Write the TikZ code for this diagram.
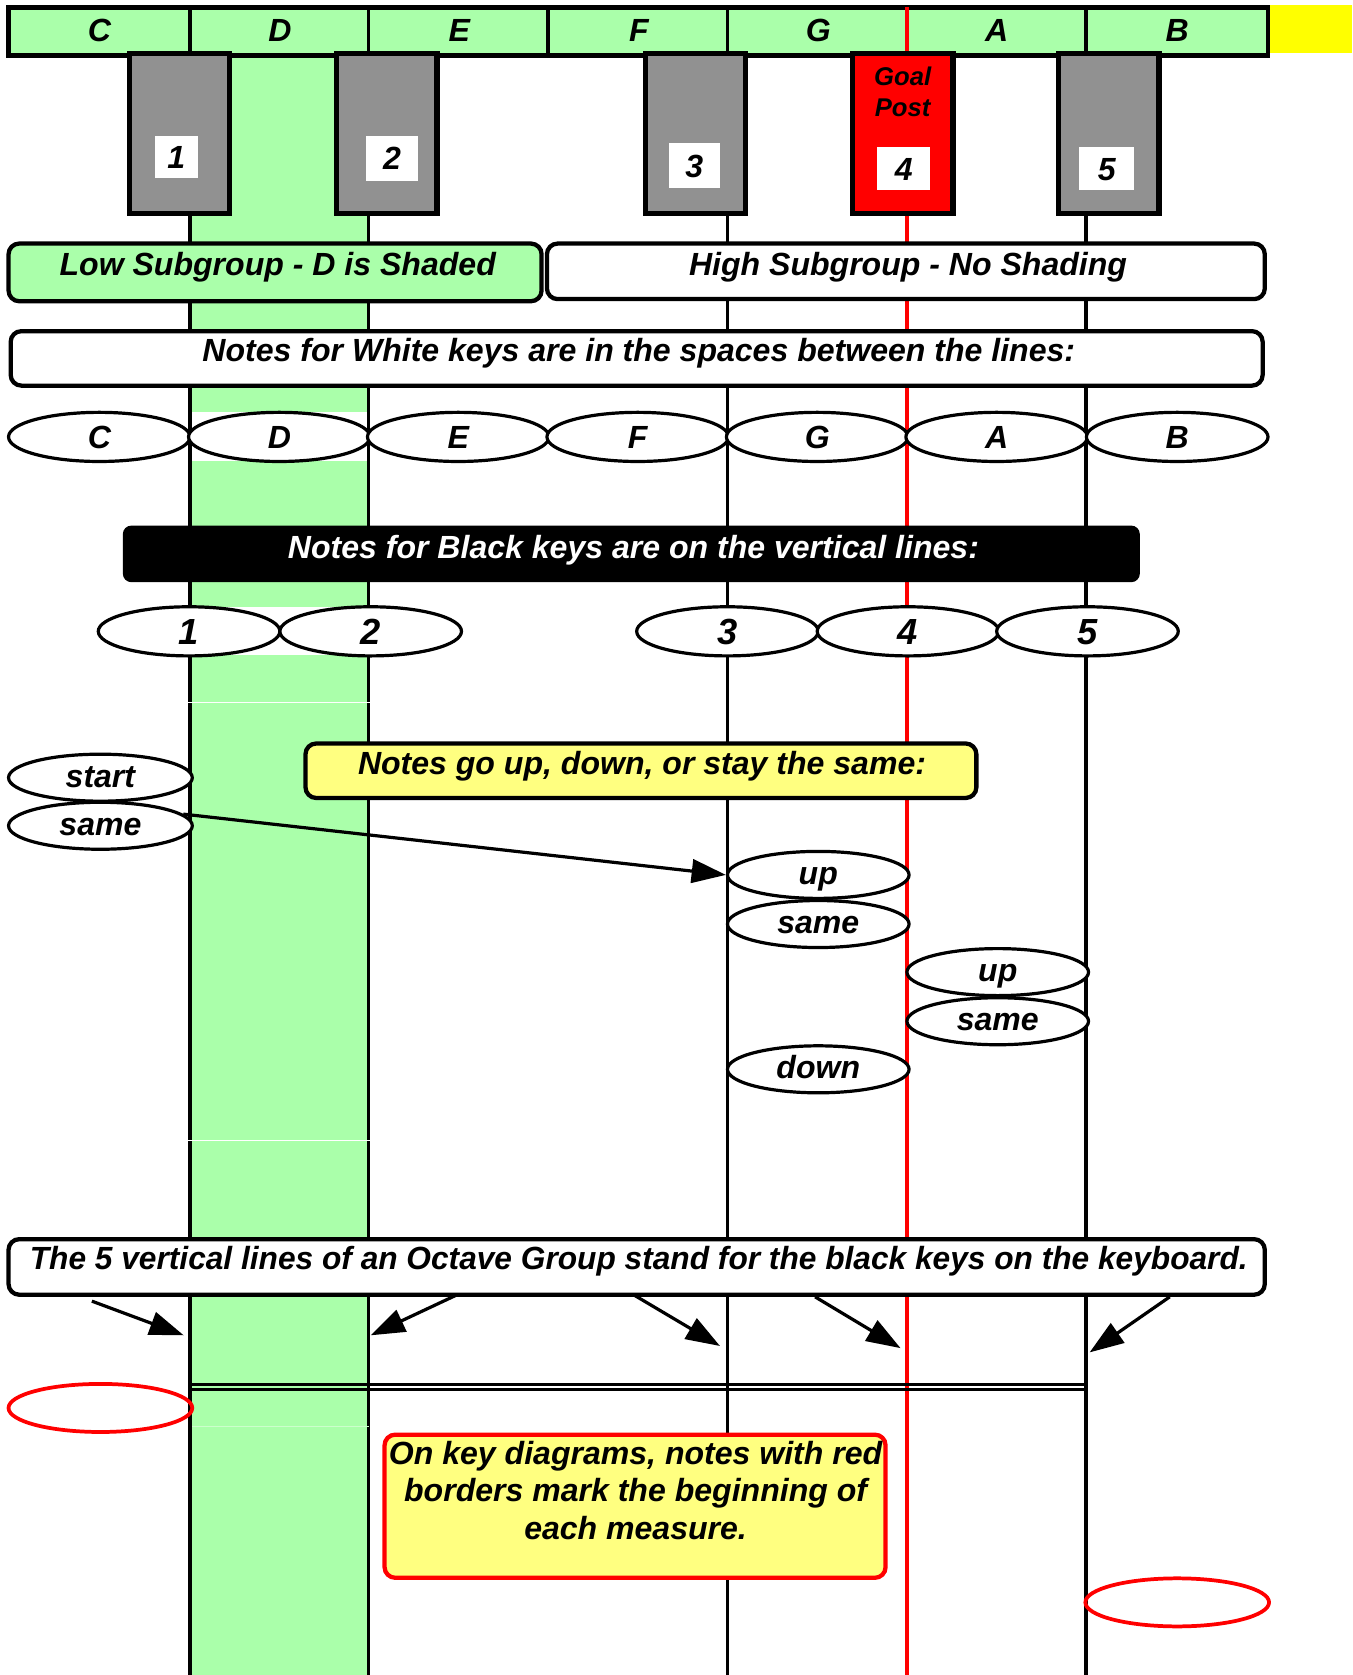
\documentclass[tikz,border=0pt]{standalone}
\usepackage{fontspec}
\setmainfont{Liberation Sans}
\usetikzlibrary{shapes.geometric,arrows.meta}
\definecolor{lgreen}{HTML}{AAFFAA}
\definecolor{kgray}{HTML}{919191}
\definecolor{lyellow}{HTML}{FFFF80}
\definecolor{pyellow}{HTML}{FFFF00}
\newcommand\fs[1]{\fontsize{#1}{35}\selectfont\bfseries\itshape}
\newcommand\fsgp{\fontsize{24}{29}\selectfont\bfseries\itshape}
\begin{document}
\begin{tikzpicture}[x=1pt,y=-1pt,
  txt/.style={inner sep=0pt, font=\fs{30}, text height=25pt, text depth=3.6pt},
  bartxt/.style={inner sep=0pt, font=\fs{30}, text height=25pt, text depth=3.6pt},
  bx/.style={draw, line width=4pt, rounded corners=10pt},
  ell/.style={ellipse, draw, line width=3pt, fill=white, minimum width=170pt, minimum height=46pt, inner sep=0pt},
  wrd/.style={font=\fs{30}, text height=22pt, text depth=4pt},
  ltr/.style={font=\fs{30}, text height=25pt, text depth=3.6pt},
  dig/.style={font=\fs{34}, text height=28pt, text depth=3.6pt},
  keybox/.style={draw, line width=5pt, fill=kgray, minimum width=94pt, minimum height=150pt, inner sep=0pt},
  lab/.style={fill=white, inner sep=0pt, font=\fs{30}, text height=25pt, text depth=3.6pt},
  vline/.style={line width=3.6pt},
  arr/.style={line width=3pt, -{Triangle[length=32pt,width=22pt]}},
  redell/.style={ellipse, draw=red, line width=3.5pt, minimum width=172pt, minimum height=45pt, inner sep=0pt},
]
\useasboundingbox (0,0) rectangle (1266,1568);
\fill[white] (0,0) rectangle (1266,1568);

% green column and its white gaps
\fill[lgreen] (178,52) rectangle (345,1568);
\fill[white] (178,386) rectangle (345,432);
\fill[white] (178,568) rectangle (345,613);

% top bar
\fill[pyellow] (1189,5) rectangle (1266,50);
\draw[line width=4pt, fill=lgreen] (8,7) rectangle (1187,52);
\foreach \x in {178,345,513,681,1017} \draw[vline] (\x,7) -- (\x,52);

% vertical lines
\foreach \x in {178,345,681,1017} \draw[vline] (\x,52) -- (\x,1568);
\draw[red, line width=3pt] (849,7) -- (849,1568);
\draw[white, line width=1pt] (176,658) -- (347,658);
\draw[white, line width=1pt] (176,1068) -- (347,1068);
\draw[white!40!lgreen, line width=1pt] (180,1335) -- (345,1335);

% top bar letters
\node[bartxt] (bC) at (93,28) {C};
\node[bartxt] (bD) at (262,28) {D};
\node[bartxt] (bE) at (430,28) {E};
\node[bartxt] (bF) at (598,28) {F};
\node[bartxt] (bG) at (766,28) {G};
\node[bartxt] (bA) at (933,28) {A};
\node[bartxt] (bB) at (1102,28) {B};

% black keys
\node[keybox] (k1) at (168,125) {};
\node[keybox] (k2) at (362,125) {};
\node[keybox] (k3) at (651,125) {};
\node[keybox, fill=red] (k4) at (845,125) {};
\node[keybox] (k5) at (1038,125) {};
\node[lab, minimum width=40pt, minimum height=40pt] (l1) at (165,147) {1};
\node[lab, minimum width=49pt, minimum height=42pt] (l2) at (367,148) {2};
\node[lab, minimum width=48pt, minimum height=42pt] (l3) at (650,155) {3};
\node[lab, minimum width=50pt, minimum height=40pt] (l4) at (846,158) {4};
\node[lab, minimum width=51pt, minimum height=40pt] (l5) at (1036,158) {5};
\node[inner sep=0pt, font=\fsgp, align=center] (gp) at (845,86) {Goal\\Post};

% subgroup boxes
\draw[bx, fill=lgreen] (8,228) rectangle (507,282);
\node[txt] (lowt) at (260,247) {Low Subgroup - D is Shaded};
\draw[bx, fill=white] (512,228) rectangle (1184,280);
\node[txt] (hight) at (850,247) {High Subgroup - No Shading};

% white keys box
\draw[bx, fill=white] (10,310) rectangle (1182,361);
\node[txt] (whitet) at (598,328) {Notes for White keys are in the spaces between the lines:};

% white key ellipses
\node[ell, ltr] (eC) at (93,409) {C};
\node[ell, ltr] (eD) at (261.5,409) {D};
\node[ell, ltr] (eE) at (429,409) {E};
\node[ell, ltr] (eF) at (597,409) {F};
\node[ell, ltr] (eG) at (765,409) {G};
\node[ell, ltr] (eA) at (933,409) {A};
\node[ell, ltr] (eB) at (1102,409) {B};

% black keys box
\fill[black, rounded corners=8pt] (115,492) rectangle (1067,545);
\node[txt, text=white] (blackt) at (593,512) {Notes for Black keys are on the vertical lines:};

% black key ellipses
\node[ell, dig] (e1) at (177,591) {1};
\node[ell, dig] (e2) at (347,591) {2};
\node[ell, dig] (e3) at (681,591) {3};
\node[ell, dig] (e4) at (850,591) {4};
\node[ell, dig] (e5) at (1018,591) {5};

% up/down box
\draw[bx, fill=lyellow] (286,696) rectangle (914,747);
\node[txt] (updt) at (601,714) {Notes go up, down, or stay the same:};

% melody ellipses
\node[ell, wrd, minimum width=172pt, minimum height=44pt] (st) at (94,728) {start};
\node[ell, wrd, minimum width=172pt, minimum height=44pt] (sa1) at (94,773) {same};
\node[ell, wrd, minimum height=44pt] (up1) at (766,819) {up};
\node[ell, wrd, minimum height=44pt] (sa2) at (766,865) {same};
\node[ell, wrd, minimum height=44pt] (up2) at (934,910) {up};
\node[ell, wrd, minimum height=44pt] (sa3) at (934,956) {same};
\node[ell, wrd, minimum height=44pt] (dn) at (766,1001) {down};
\draw[arr] (sa1.8) -- (up1.west);

% octave box
\draw[bx, fill=white] (8,1160) rectangle (1184,1212);
\node[txt] (octt) at (598,1178) {\resizebox{1140pt}{\height}{The 5 vertical lines of an Octave Group stand for the black keys on the keyboard.}};
\coordinate (o1s) at (86,1218);   \coordinate (o1e) at (172,1250);
\coordinate (o2s) at (428,1212);  \coordinate (o2e) at (347,1250);
\coordinate (o3s) at (593,1212);  \coordinate (o3e) at (674,1260);
\coordinate (o4s) at (763,1214);  \coordinate (o4e) at (843,1262);
\coordinate (o5s) at (1095,1214); \coordinate (o5e) at (1020,1266);
\foreach \i in {1,...,5} \draw[arr] (o\i s) -- (o\i e);

% double bar line
\draw[line width=2pt] (178,1296) -- (1017,1296);
\draw[line width=2.5pt] (178,1301) -- (1017,1301);

% red ellipses
\node[redell] (r1) at (94,1318) {};
\node[redell] (r2) at (1102,1500) {};

% red-bordered note
\draw[draw=red, line width=4pt, fill=lyellow, rounded corners=10pt] (360,1343) rectangle (829,1477);
\node[inner sep=0pt, font=\fs{30}, align=center, anchor=north] (redt) at (595,1349) {On key diagrams, notes with red\\borders mark the beginning of\\each measure.};
\end{tikzpicture}
\end{document}
